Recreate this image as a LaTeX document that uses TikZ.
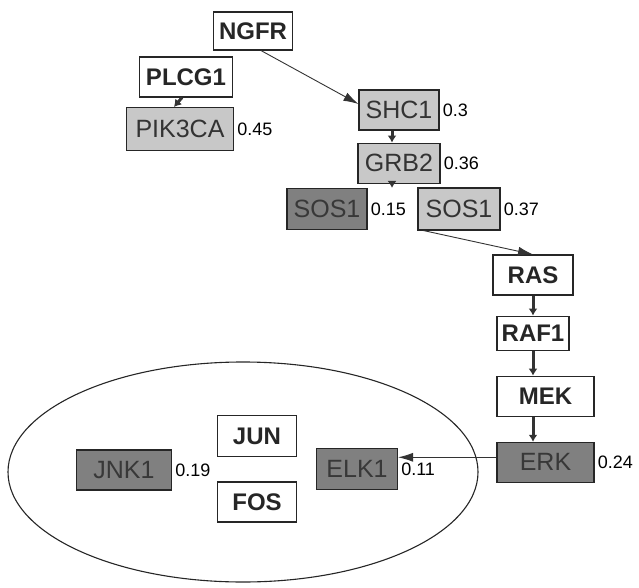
\documentclass[tikz,border=0pt]{standalone}
\usepackage{fontspec}
\setmainfont{Liberation Sans}
\usetikzlibrary{positioning,arrows.meta,shapes.geometric,calc}
\definecolor{lightfill}{HTML}{C8C8C8}
\definecolor{darkfill}{HTML}{808080}

\begin{document}
\begin{tikzpicture}[
  x=1pt, y=-1pt,
  font=\fontsize{24}{26}\selectfont\bfseries,
  box/.style={draw=black!85, line width=1.1pt, minimum height=40pt,
              inner sep=2pt, fill=white, text=black!85},
  light/.style={box, fill=lightfill, text=black!80,
                font=\fontsize{25}{27}\selectfont},
  dark/.style={box, fill=darkfill, text=black!78,
               font=\fontsize{25}{27}\selectfont},
  val/.style={font=\fontsize{18}{20}\selectfont, anchor=west,
              inner sep=0pt, xshift=3pt},
  arr/.style={-{Latex[length=15pt,width=9pt]}, line width=0.9pt, draw=black!80},
  stub/.style={-{Latex[length=7pt,width=9pt]}, line width=3pt, draw=black!80},
  node distance=20pt,
]
\useasboundingbox (0,0) rectangle (639,588);

% receptor and side branch
\node[box, minimum width=79pt, minimum height=38pt] (ngfr) at (253,31) {NGFR};
\node[box, minimum width=93pt] (plcg1) at (186,77) {PLCG1};
\node[light, minimum width=107pt, minimum height=43pt] (pik3ca) at (180,129) {PIK3CA};
\node[val] at (pik3ca.east) {0.45};

% adaptor chain
\node[light, minimum width=80pt] (shc1) at (399,110) {SHC1};
\node[val] at (shc1.east) {0.3};
\node[light, minimum width=82pt, below=12pt of shc1] (grb2) {GRB2};
\node[val] at (grb2.east) {0.36};
\node[dark, minimum width=80pt, minimum height=41pt] (sos1a) at (327,209) {SOS1};
\node[val] at (sos1a.east) {0.15};
\node[light, minimum width=82pt, minimum height=42pt] (sos1b) at (459,209) {SOS1};
\node[val] at (sos1b.east) {0.37};

% MAPK cascade
\node[box, minimum width=80pt] (ras) at (533,275) {RAS};
\node[box, minimum width=72pt, minimum height=34pt, below=20pt of ras] (raf1) {RAF1};
\node[box, minimum width=97pt, below=25pt of raf1.south west, anchor=north west] (mek) {MEK};
\node[dark, minimum width=97pt, below=25pt of mek] (erk) {ERK};
\node[val] at (erk.east) {0.24};

% nuclear targets
\node[draw=black!85, line width=1.1pt, ellipse, minimum width=470pt,
      minimum height=220pt] (nucleus) at (243,472) {};
\node[box, minimum width=79pt, minimum height=41pt] (jun) at (257,436) {JUN};
\node[box, minimum width=79pt] (fos) at (257,502) {FOS};
\node[dark, minimum width=95pt] (jnk1) at (124,470) {JNK1};
\node[val] at (jnk1.east) {0.19};
\node[dark, minimum width=81pt, minimum height=41pt] (elk1) at (357,469) {ELK1};
\node[val] at (elk1.east) {0.11};

\draw[arr] (ngfr.south) ++(8pt,0) -- ([yshift=6pt]shc1.west);
\draw[stub] ([xshift=-4pt]plcg1.south) -- ([xshift=-6pt]pik3ca.north);
\draw[stub] ([xshift=-7pt]shc1.south) -- ([xshift=-7pt]grb2.north);
\draw[stub] ([xshift=-7pt]grb2.south) -- ([xshift=-7pt]grb2.south |- sos1a.north);
\draw[arr] ([xshift=6pt]sos1b.south west) -- (ras.north);
\draw[stub] (ras.south) -- (ras.south |- raf1.north);
\draw[stub] (raf1.south) -- (raf1.south |- mek.north);
\draw[stub] (mek.south -| raf1.south) -- (erk.north -| raf1.south);
\draw[arr] ([yshift=5pt]erk.west) -- ([yshift=5pt]erk.west -| elk1.east);

\end{tikzpicture}
\end{document}
